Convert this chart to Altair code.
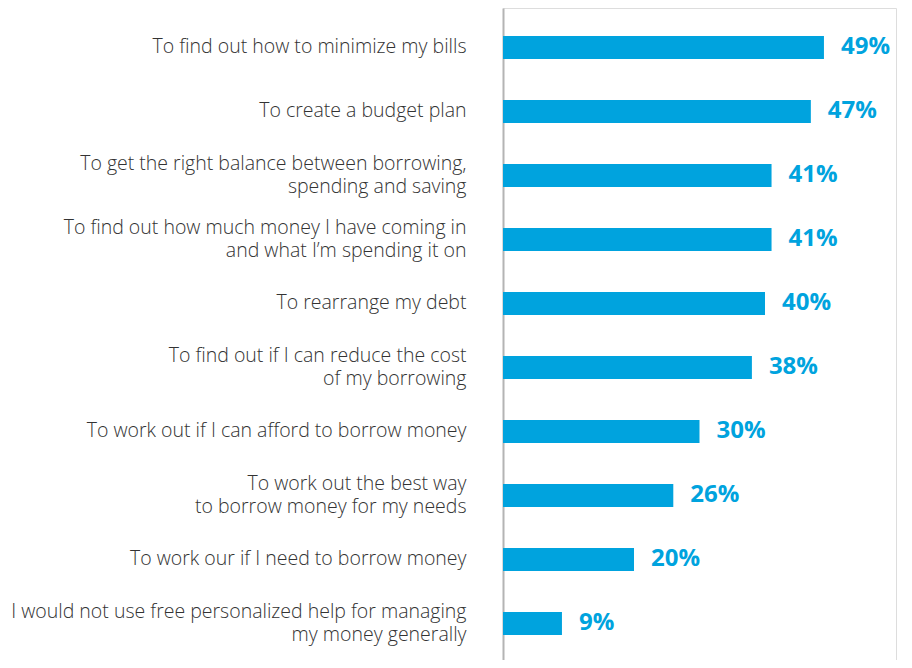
import altair as alt
import pandas as pd

categories = [
    "To find out how to minimize my bills",
    "To create a budget plan",
    "To get the right balance between borrowing,|spending and saving",
    "To find out how much money I have coming in|and what I\u2019m spending it on",
    "To rearrange my debt",
    "To find out if I can reduce the cost|of my borrowing",
    "To work out if I can afford to borrow money",
    "To work out the best way|to borrow money for my needs",
    "To work our if I need to borrow money",
    "I would not use free personalized help for managing|my money generally",
]
values = [49, 47, 41, 41, 40, 38, 30, 26, 20, 9]
value_labels = [f"{v}%" for v in values]

df = pd.DataFrame({"cat": categories, "val": values, "lab": value_labels})

BLUE = "#00A3DE"

y_enc = alt.Y(
    "cat:N",
    sort=None,
    scale=alt.Scale(paddingInner=0.640625, paddingOuter=0.4140625, align=0.528),
    axis=alt.Axis(
        title=None,
        ticks=False,
        domain=True,
        domainColor="#b4b4b4",
        domainWidth=2,
        labelExpr="split(datum.label, '|')",
        labelFont="Open Sans",
        labelFontSize=19.5,
        labelFontWeight=300,
        labelColor="#333333",
        labelLineHeight=23,
        labelPadding=37,
        labelLimit=600,
        labelAlign="right",
        labelBaseline="middle",
        labelOffset={
            "condition": {"test": "indexof(datum.value, '|') >= 0", "value": -11.5},
            "value": 0,
        },
    ),
)
x_enc = alt.X(
    "val:Q",
    scale=alt.Scale(domain=[0, 60]),
    axis=None,
)

bars = alt.Chart(df).mark_bar(color=BLUE).encode(x=x_enc, y=y_enc)
texts = alt.Chart(df).mark_text(
    align="left",
    baseline="middle",
    dx=17,
    font="Open Sans",
    fontSize=24,
    fontWeight="bold",
    color=BLUE,
).encode(x=x_enc, y=y_enc, text="lab:N")

chart = (
    alt.layer(bars, texts)
    .properties(
        width=393,
        height=652,
        autosize=alt.AutoSizeParams(type="none"),
        padding={"left": 495, "top": 0, "right": 8, "bottom": 0},
    )
    .configure_view(strokeWidth=0, stroke="transparent")
    .configure(background="white")
)

chart.save("out.html", embed_options={"renderer": "svg", "actions": False})
